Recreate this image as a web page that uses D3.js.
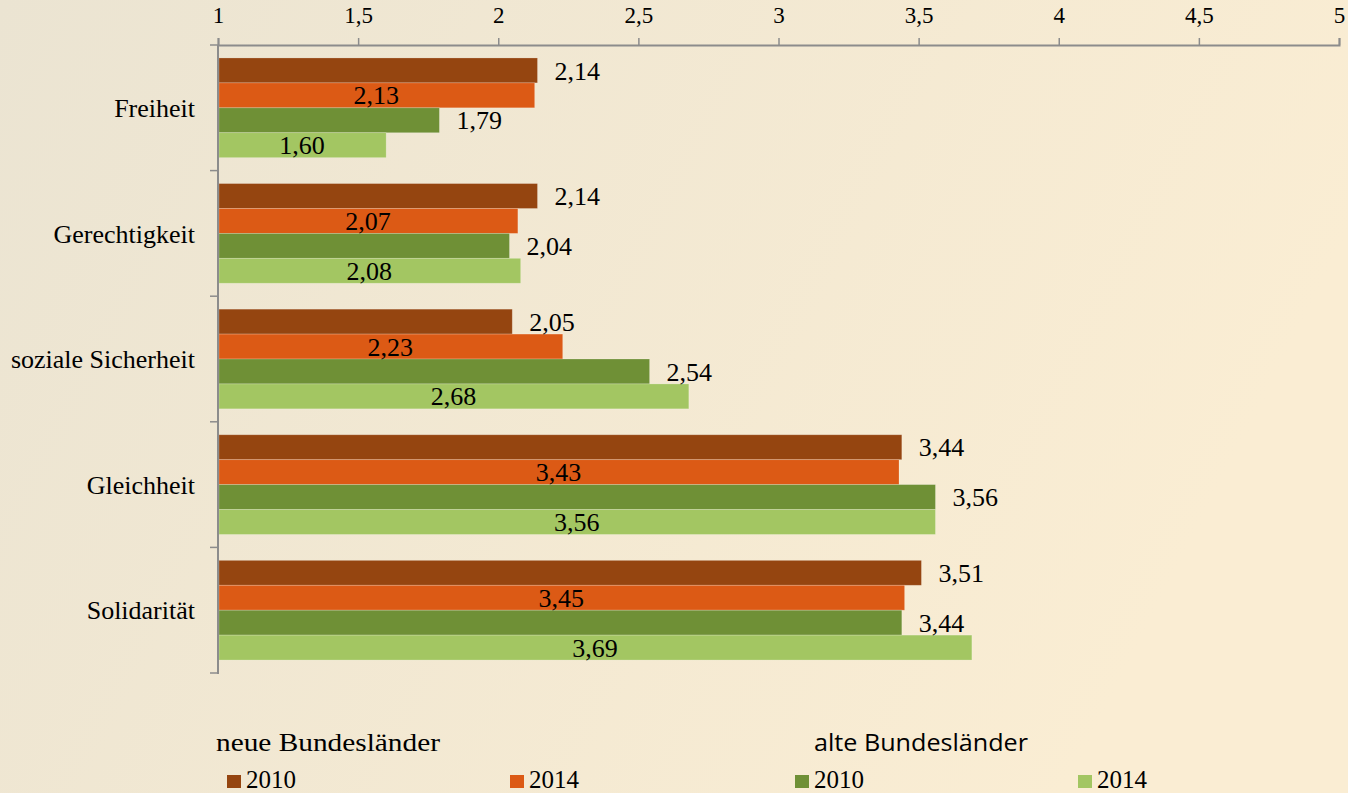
<!DOCTYPE html>
<html>
<head>
<meta charset="utf-8">
<script src="https://cdn.jsdelivr.net/npm/d3@7"></script>
<style>
  html, body { margin: 0; padding: 0; overflow: hidden; }
  svg { display: block; }
</style>
</head>
<body>
<svg id="chart" width="1348" height="793"></svg>
<script>
// Daten
var categories = ["Freiheit", "Gerechtigkeit", "soziale Sicherheit", "Gleichheit", "Solidarität"];
var seriesNames = ["neu2010", "neu2014", "alt2010", "alt2014"];
var neu2010 = [2.14, 2.14, 2.05, 3.44, 3.51];
var neu2014 = [2.13, 2.07, 2.23, 3.43, 3.45];
var alt2010 = [1.79, 2.04, 2.54, 3.56, 3.44];
var alt2014 = [1.60, 2.08, 2.68, 3.56, 3.69];
var xTicks = [1, 1.5, 2, 2.5, 3, 3.5, 4, 4.5, 5];
var legendYears = ["2010", "2014", "2010", "2014"];

var colors = { neu2010: "#954510", neu2014: "#dc5a15", alt2010: "#6f9036", alt2014: "#a3c662" };
// label außen (rechts) oder innen (mittig)
var labelInside = { neu2010: false, neu2014: true, alt2010: false, alt2014: true };

var seriesValues = { neu2010: neu2010, neu2014: neu2014, alt2010: alt2010, alt2014: alt2014 };

var serif = "'Liberation Serif', 'Times New Roman', serif";
var sans = "'Open Sans', 'Noto Sans', sans-serif";
var fontsize = 26;
var margin = { left: 218, top: 45, right: 1339, bottom: 673 };

var svg = d3.select("#chart");

// Hintergrund
var defs = svg.append("defs");
var grad = defs.append("linearGradient").attr("id", "bg").attr("x1", "0").attr("y1", "0").attr("x2", "1").attr("y2", "0.3");
grad.append("stop").attr("offset", "0").attr("stop-color", "#ebe4d2");
grad.append("stop").attr("offset", "1").attr("stop-color", "#faedd3");
svg.append("rect").attr("width", 1348).attr("height", 793).attr("fill", "url(#bg)");

var x = d3.scaleLinear().domain([1, 5]).range([margin.left, margin.right]);
var y = d3.scaleBand().domain(categories).range([margin.top, margin.bottom]).paddingInner(0).paddingOuter(0);
var ySub = d3.scaleBand().domain(seriesNames).range([0, y.bandwidth()]).paddingOuter(0.52).paddingInner(0);

var fmt = function(v) { return d3.format(".2f")(v).replace(".", ","); };

// Balken
var rows = [];
categories.forEach(function(c, i) {
  seriesNames.forEach(function(s) {
    rows.push({ cat: c, series: s, value: seriesValues[s][i] });
  });
});

var g = svg.append("g");
g.selectAll("rect.bar")
  .data(rows)
  .enter()
  .append("rect")
  .attr("class", "bar")
  .attr("x", x(1) + 1)
  .attr("y", function(d) { return y(d.cat) + ySub(d.series); })
  .attr("width", function(d) { return x(d.value) - x(1) - 1; })
  .attr("height", ySub.bandwidth())
  .attr("fill", function(d) { return colors[d.series]; })
  .attr("stroke", "rgba(255,255,255,0.25)")
  .attr("stroke-width", 0.8);

g.selectAll("text.val")
  .data(rows)
  .enter()
  .append("text")
  .attr("class", "val")
  .attr("x", function(d) {
    return labelInside[d.series] ? (x(1) + x(d.value)) / 2 : x(d.value) + 17;
  })
  .attr("y", function(d) { return y(d.cat) + ySub(d.series) + ySub.bandwidth() / 2; })
  .attr("dy", "0.35em")
  .attr("text-anchor", function(d) { return labelInside[d.series] ? "middle" : "start"; })
  .attr("font-family", serif)
  .attr("font-size", fontsize)
  .attr("fill", "#000")
  .text(function(d) { return fmt(d.value); });

// Achse oben
var xAxis = svg.append("g")
  .attr("transform", "translate(0," + margin.top + ")")
  .call(d3.axisTop(x).tickValues(xTicks).tickSize(7).tickPadding(15).tickFormat(function(v) { return String(v).replace(".", ","); }));
xAxis.select(".domain").attr("stroke", "#8c8c8c").attr("stroke-width", 2);
xAxis.selectAll(".tick line").attr("stroke", "#8c8c8c").attr("stroke-width", 1.5);
xAxis.selectAll(".tick text").attr("font-family", serif).attr("font-size", 23).attr("fill", "#000");

// Achse links
var boundaries = categories.map(function(c) { return y(c); }).concat([margin.bottom]);
svg.append("line")
  .attr("x1", margin.left).attr("x2", margin.left)
  .attr("y1", margin.top).attr("y2", margin.bottom + 1)
  .attr("stroke", "#8c8c8c").attr("stroke-width", 2);
svg.selectAll("line.ytick")
  .data(boundaries)
  .enter()
  .append("line")
  .attr("class", "ytick")
  .attr("x1", margin.left - 8).attr("x2", margin.left)
  .attr("y1", function(d) { return d; }).attr("y2", function(d) { return d; })
  .attr("stroke", "#8c8c8c").attr("stroke-width", 1.5);
svg.selectAll("text.cat")
  .data(categories)
  .enter()
  .append("text")
  .attr("class", "cat")
  .attr("x", 195)
  .attr("y", function(d) { return y(d) + y.bandwidth() / 2; })
  .attr("dy", "0.35em")
  .attr("text-anchor", "end")
  .attr("font-family", serif)
  .attr("font-size", fontsize)
  .text(function(d) { return d; });

// Legende
svg.append("text").attr("x", 216).attr("y", 751)
  .attr("font-family", serif).attr("font-size", fontsize)
  .attr("textLength", 224).attr("lengthAdjust", "spacingAndGlyphs")
  .text("neue Bundesländer");
svg.append("text").attr("x", 814).attr("y", 751)
  .attr("font-family", sans).attr("font-size", 24)
  .attr("textLength", 214).attr("lengthAdjust", "spacingAndGlyphs")
  .text("alte Bundesländer");

var legendX = [227, 510, 795, 1078];
var leg = svg.selectAll("g.leg")
  .data(seriesNames)
  .enter()
  .append("g")
  .attr("class", "leg")
  .attr("transform", function(d, i) { return "translate(" + legendX[i] + ",775)"; });
leg.append("rect").attr("width", 14).attr("height", 13).attr("fill", function(d) { return colors[d]; });
leg.append("text").attr("x", 19).attr("y", 13)
  .attr("font-family", serif).attr("font-size", 25)
  .text(function(d, i) { return legendYears[i]; });
</script>
</body>
</html>
